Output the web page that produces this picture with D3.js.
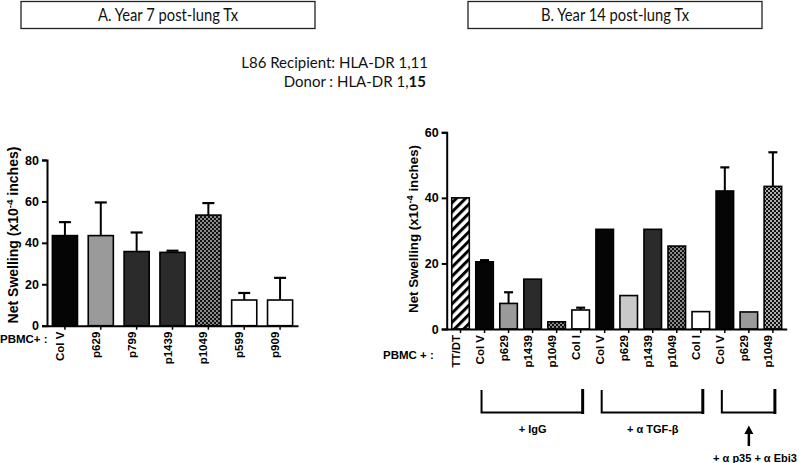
<!DOCTYPE html>
<html><head><meta charset="utf-8">
<script src="https://cdn.jsdelivr.net/npm/d3@7"></script>
<style>body{margin:0;background:#fff}svg{display:block}</style>
</head><body>
<script>
// ---------- DATA ----------
const catsA = ["Col V","p629","p799","p1439","p1049","p599","p909"];
const valsA = [43.5, 43.5, 35.8, 35.4, 53.4, 12.4, 12.4];
const errA  = [50, 59.5, 45, 36.2, 59.2, 15.8, 23.1];
const fillA = ["black","grey","dark","dark","checker","white","white"];
const ticksA = [0,20,40,60,80];

const catsB = ["TT/DT","Col V","p629","p1439","p1049","Col I","Col V","p629","p1439","p1049","Col I","Col V","p629","p1049"];
const valsB = [40, 20.5, 7.8, 15.2, 2.2, 5.8, 30.4, 10.2, 30.4, 25.3, 5.3, 42.1, 5.2, 43.5];
const errB  = [null, 21, 11.2, null, null, 6.5, null, null, null, null, null, 49.3, null, 53.9];
const fillB = ["hatch","black","grey","dark","checker","white","black","light","dark","checker","white","black","grey","checker2"];
const ticksB = [0,20,40,60];

const groupLabels = ["+ IgG", "+ α TGF-β", "+ α p35 + α Ebi3"];
const groupStart = [1, 6, 11];
const groupEnd = [5, 10, 13];

const fillColors = {black:"#050505", grey:"#9a9a9a", light:"#c9c9c9", dark:"#2b2b2b", white:"#ffffff",
  checker:"url(#checker)", checker2:"url(#checker2)", hatch:"url(#hatch)"};

// ---------- SVG ----------
const W = 800, H = 463;
const svg = d3.select("body").append("svg").attr("width", W).attr("height", H);
const defs = svg.append("defs");
function checker(id, light) {
  const p = defs.append("pattern").attr("id", id).attr("patternUnits","userSpaceOnUse").attr("width",4).attr("height",4);
  p.append("rect").attr("width",4).attr("height",4).attr("fill", light);
  p.append("rect").attr("width",2).attr("height",2).attr("fill","#111");
  p.append("rect").attr("x",2).attr("y",2).attr("width",2).attr("height",2).attr("fill","#111");
}
checker("checker", "#8a8a8a");
checker("checker2", "#b0b0b0");
const hp = defs.append("pattern").attr("id","hatch").attr("patternUnits","userSpaceOnUse")
  .attr("width",6.5).attr("height",6.5).attr("patternTransform","rotate(45)");
hp.append("rect").attr("width",6.5).attr("height",6.5).attr("fill","#fff");
hp.append("rect").attr("width",3).attr("height",6.5).attr("fill","#000");

const bold = "'Liberation Sans', Arial, sans-serif";
const cal = "Lato, 'Open Sans', sans-serif";

// Title boxes
function titleBox(x0, x1, text, len) {
  svg.append("rect").attr("x", x0).attr("y", 1.5).attr("width", x1 - x0).attr("height", 27)
    .attr("fill","#fff").attr("stroke","#222").attr("stroke-width",1.3);
  svg.append("text").attr("x", (x0 + x1) / 2).attr("y", 20.5).attr("text-anchor","middle")
    .attr("font-family", cal).attr("font-size", 16.5).attr("fill","#111")
    .attr("textLength", len).attr("lengthAdjust","spacingAndGlyphs").text(text);
}
titleBox(21, 315, "A. Year 7 post-lung Tx", 140);
titleBox(468, 762, "B. Year 14 post-lung Tx", 148);

svg.append("text").attr("x", 428).attr("y", 68).attr("text-anchor","end")
  .attr("font-family", cal).attr("font-size", 15).attr("fill","#111").text("L86 Recipient: HLA-DR 1,11");
const t2 = svg.append("text").attr("x", 426).attr("y", 87).attr("text-anchor","end")
  .attr("font-family", cal).attr("font-size", 15).attr("fill","#111");
t2.append("tspan").text("Donor : HLA-DR 1,");
t2.append("tspan").attr("font-weight","bold").text("15");

// ---------- generic panel ----------
function panel(opt) {
  const {cats, vals, errs, fills, ticks, x0, x1, y0, yTopPx, yMax, pi, po, capW, labelX, labelY, labelFS} = opt;
  const g = svg.append("g");
  const x = d3.scaleBand().domain(d3.range(cats.length)).range([x0, x1]).paddingInner(pi).paddingOuter(po);
  const y = d3.scaleLinear().domain([0, yMax]).range([y0, yTopPx]);

  g.selectAll("rect.bar").data(vals).join("rect").attr("class","bar")
    .attr("x", (d,i) => x(i)).attr("width", x.bandwidth())
    .attr("y", d => y(d)).attr("height", d => y(0) - y(d))
    .attr("fill", (d,i) => fillColors[fills[i]]).attr("stroke","#000").attr("stroke-width",1.6);
  errs.forEach((e, i) => {
    if (e == null) return;
    const cx = x(i) + x.bandwidth() / 2;
    g.append("line").attr("x1", cx).attr("x2", cx).attr("y1", y(vals[i])).attr("y2", y(e))
      .attr("stroke","#000").attr("stroke-width",2);
    g.append("line").attr("x1", cx - capW/2).attr("x2", cx + capW/2).attr("y1", y(e)).attr("y2", y(e))
      .attr("stroke","#000").attr("stroke-width",2.2);
  });

  const ya = g.append("g").attr("transform", `translate(${x0},0)`)
    .call(d3.axisLeft(y).tickValues(ticks).tickSize(5).tickPadding(3).tickFormat(d3.format("d")));
  ya.select(".domain").attr("stroke","#000").attr("stroke-width",2);
  ya.selectAll(".tick line").attr("stroke","#000").attr("stroke-width",2);
  ya.selectAll(".tick text").attr("font-family", bold).attr("font-weight","bold").attr("font-size",12.5).attr("fill","#000");

  const xa = g.append("g").attr("transform", `translate(0,${y0})`)
    .call(d3.axisBottom(x).tickSize(4).tickSizeOuter(0).tickFormat(i => cats[i]));
  xa.select(".domain").attr("stroke","#000").attr("stroke-width",2);
  xa.selectAll(".tick line").attr("stroke","#000").attr("stroke-width",1.5);
  xa.selectAll(".tick text").attr("font-family", bold).attr("font-weight","bold").attr("font-size",11.5).attr("fill","#000")
    .attr("text-anchor","end").attr("dy", null).attr("y", 0)
    .attr("transform","translate(-4,6) rotate(-90)").attr("dominant-baseline","middle");

  const yl = g.append("text").attr("transform", `translate(${labelX},${labelY}) rotate(-90)`)
    .attr("text-anchor","middle").attr("font-family", bold).attr("font-weight","bold").attr("font-size", labelFS).attr("fill","#000");
  yl.append("tspan").text("Net Swelling (x10");
  yl.append("tspan").attr("dy",-5).attr("font-size", labelFS*0.7).text("-4");
  yl.append("tspan").attr("dy",5).text(" inches)");
  return {x, y};
}

panel({cats: catsA, vals: valsA, errs: errA, fills: fillA, ticks: ticksA,
  x0: 47, x1: 298, y0: 325.7, yTopPx: 160, yMax: 80, pi: 0.3, po: 0.15, capW: 12,
  labelX: 18, labelY: 235, labelFS: 14});
svg.append("text").attr("x", 0).attr("y", 343).attr("font-family", bold).attr("font-weight","bold")
  .attr("font-size", 11.5).text("PBMC+ :");

const pB = panel({cats: catsB, vals: valsB, errs: errB, fills: fillB, ticks: ticksB,
  x0: 446.7, x1: 786.7, y0: 329, yTopPx: 132.3, yMax: 60, pi: 0.27, po: 0.21, capW: 9,
  labelX: 418, labelY: 229, labelFS: 13.3});
svg.append("text").attr("x", 383).attr("y", 359).attr("font-family", bold).attr("font-weight","bold")
  .attr("font-size", 11.5).text("PBMC + :");

// brackets
const xb = pB.x;
groupStart.forEach((s, k) => {
  const e = groupEnd[k];
  const l = xb(s) + xb.bandwidth()/2 - 3, r = xb(e) + xb.bandwidth()/2 + 2;
  svg.append("path").attr("d", `M${l},390 V412.5 H${r}`).attr("fill","none").attr("stroke","#000").attr("stroke-width",2);
  svg.append("line").attr("x1", r).attr("x2", r).attr("y1", 389).attr("y2", 414).attr("stroke","#000").attr("stroke-width",3);
});
const mid = i => xb(i) + xb.bandwidth()/2;
svg.append("text").attr("x", (mid(1)+mid(5))/2).attr("y", 433).attr("text-anchor","middle")
  .attr("font-family", bold).attr("font-weight","bold").attr("font-size",11).text(groupLabels[0]);
svg.append("text").attr("x", (mid(6)+mid(10))/2).attr("y", 433).attr("text-anchor","middle")
  .attr("font-family", bold).attr("font-weight","bold").attr("font-size",11).text(groupLabels[1]);
const ax = mid(12);
svg.append("line").attr("x1", ax).attr("x2", ax).attr("y1", 446).attr("y2", 432).attr("stroke","#000").attr("stroke-width",2.5);
svg.append("path").attr("d", `M${ax-4.5},434 L${ax},425.5 L${ax+4.5},434 Z`).attr("fill","#000");
svg.append("text").attr("x", 755).attr("y", 461.5).attr("text-anchor","middle")
  .attr("font-family", bold).attr("font-weight","bold").attr("font-size",11).text(groupLabels[2]);
</script>
</body></html>
